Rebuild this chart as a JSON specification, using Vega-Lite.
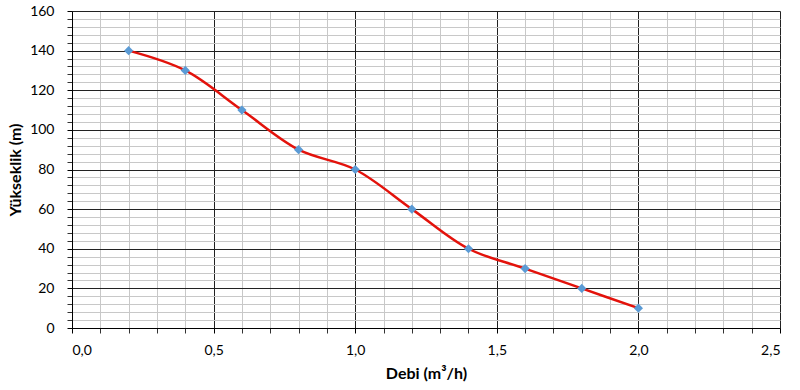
{
  "$schema": "https://vega.github.io/schema/vega-lite/v6.json",
  "autosize": "none",
  "width": 708,
  "height": 317,
  "padding": {"left": 72, "top": 11, "right": 12, "bottom": 62},
  "background": "white",
  "config": {
    "view": {"stroke": null},
    "font": "Lato",
    "axis": {"labelFont": "Lato", "titleFont": "Lato", "labelColor": "#000", "titleColor": "#000"}
  },
  "data": {"values": [
    {"q": 0.2, "h": 140}, {"q": 0.4, "h": 130}, {"q": 0.6, "h": 110},
    {"q": 0.8, "h": 90}, {"q": 1.0, "h": 80}, {"q": 1.2, "h": 60},
    {"q": 1.4, "h": 40}, {"q": 1.6, "h": 30}, {"q": 1.8, "h": 20},
    {"q": 2.0, "h": 10}
  ]},
  "resolve": {"axis": {"x": "independent", "y": "independent"}},
  "layer": [
    {
      "mark": {"type": "line", "opacity": 0},
      "encoding": {
        "x": {"field": "q", "type": "quantitative", "scale": {"domain": [0, 2.5], "nice": false},
          "axis": {"orient": "bottom", "values": [0.1,0.2,0.3,0.4,0.6,0.7,0.8,0.9,1.1,1.2,1.3,1.4,1.6,1.7,1.8,1.9,2.1,2.2,2.3,2.4],
            "labels": false, "title": null, "domain": false, "grid": true, "gridColor": "#c8c8c8", "gridWidth": 1,
            "ticks": true, "tickColor": "#333", "tickSize": 5}},
        "y": {"field": "h", "type": "quantitative", "scale": {"domain": [0, 160], "nice": false},
          "axis": {"orient": "left", "values": [4,8,12,16,24,28,32,36,44,48,52,56,64,68,72,76,84,88,92,96,104,108,112,116,124,128,132,136,144,148,152,156],
            "labels": false, "title": null, "domain": false, "grid": true, "gridColor": "#c8c8c8", "gridWidth": 1,
            "ticks": true, "tickColor": "#333", "tickSize": 5}}
      }
    },
    {
      "mark": {"type": "line", "color": "#e3120b", "strokeWidth": 2.5, "interpolate": "catmull-rom"},
      "encoding": {
        "x": {"field": "q", "type": "quantitative", "scale": {"domain": [0, 2.5], "nice": false},
          "axis": {"orient": "bottom", "values": [0, 0.5, 1.0, 1.5, 2.0, 2.5],
            "labelExpr": "replace(format(datum.value, '.1f'), '.', ',')",
            "labelFontSize": 14, "labelPadding": 10, "title": "Debi (m³/h)", "titleFontSize": 16, "titleFontWeight": "bold",
            "titlePadding": 8, "domain": true, "domainColor": "#000", "grid": true, "gridColor": "#222", "gridWidth": 1,
            "ticks": true, "tickColor": "#000", "tickSize": 5}},
        "y": {"field": "h", "type": "quantitative", "scale": {"domain": [0, 160], "nice": false},
          "axis": {"orient": "left", "values": [0, 20, 40, 60, 80, 100, 120, 140, 160],
            "labelFontSize": 14, "labelPadding": 13, "title": "Yükseklik (m)", "titleFontSize": 16, "titleFontWeight": "bold",
            "titleX": -57, "titleBaseline": "middle", "domain": true, "domainColor": "#000", "grid": true, "gridColor": "#222", "gridWidth": 1,
            "ticks": true, "tickColor": "#000", "tickSize": 5}}
      }
    },
    {
      "mark": {"type": "point", "shape": "diamond", "filled": true, "color": "#5b9bd5", "size": 85, "opacity": 1},
      "encoding": {
        "x": {"field": "q", "type": "quantitative", "axis": null},
        "y": {"field": "h", "type": "quantitative", "axis": null}
      }
    }
  ]
}
